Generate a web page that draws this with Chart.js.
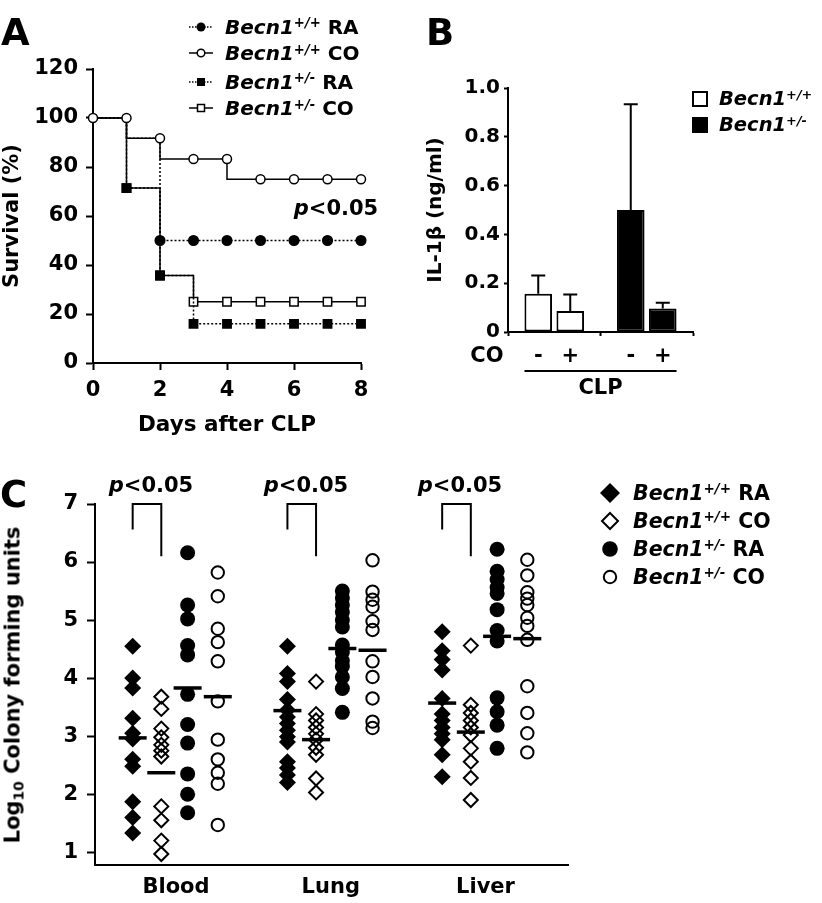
<!DOCTYPE html>
<html>
<head>
<meta charset="utf-8">
<script src="https://cdn.jsdelivr.net/npm/chart.js@4.4.0/dist/chart.umd.min.js"></script>
<style>
  body { margin: 0; background: #fff; }
  #page { position: relative; width: 822px; height: 903px; overflow: hidden;
          font-family: 'DejaVu Sans', sans-serif; font-weight: bold; color: #000; }
  canvas { position: absolute; }
  .txt { position: absolute; white-space: nowrap; }
  .letter { font-size: 37px; line-height: 37px; }
  .gene { font-style: italic; }
  sup { font-size: 0.66em; position: relative; top: -0.5em; vertical-align: baseline; }
  sub { font-size: 0.66em; position: relative; top: 0.3em; vertical-align: baseline; }
  .icon { position: absolute; }
  .pval { font-size: 21px; line-height: 21px; width: 120px; text-align: center; }
  .legA { font-size: 20px; line-height: 20px; }
  .legC { font-size: 20.5px; line-height: 20.5px; }
  #ylabC { font-size: 21px; line-height: 21px; transform: translate(-50%, -50%) rotate(-90deg); }
</style>
</head>
<body>
<div id="page">
  <canvas id="chartA" width="400" height="450" style="left:0;top:0"></canvas>
  <canvas id="chartB" width="402" height="420" style="left:420px;top:0"></canvas>
  <canvas id="chartC" width="600" height="443" style="left:0;top:460px"></canvas>

  <div class="txt letter" style="left:1px;top:14px">A</div>
  <div class="txt letter" style="left:426px;top:14px">B</div>
  <div class="txt letter" style="left:0px;top:476px">C</div>

  <!-- panel A legend -->
  <svg class="icon" width="24" height="12" style="left:189px;top:21px"><line x1="0" y1="6" x2="24" y2="6" stroke="#000" stroke-width="1.5" stroke-dasharray="1.5 1.5"/><circle cx="12" cy="6" r="4.5" fill="#000"/></svg>
  <svg class="icon" width="24" height="12" style="left:189px;top:47px"><line x1="0" y1="6" x2="24" y2="6" stroke="#000" stroke-width="1.5"/><circle cx="12" cy="6" r="3.8" fill="#fff" stroke="#000" stroke-width="1.5"/></svg>
  <svg class="icon" width="24" height="12" style="left:189px;top:76px"><line x1="0" y1="6" x2="24" y2="6" stroke="#000" stroke-width="1.5" stroke-dasharray="1.5 1.5"/><rect x="8" y="2" width="8" height="8" fill="#000"/></svg>
  <svg class="icon" width="24" height="12" style="left:189px;top:102px"><line x1="0" y1="6" x2="24" y2="6" stroke="#000" stroke-width="1.5"/><rect x="8.5" y="2.5" width="7" height="7" fill="#fff" stroke="#000" stroke-width="1.5"/></svg>
  <div class="txt legA" style="left:225px;top:16.7px"><span class="gene">Becn1<sup>+/+</sup></span> RA</div>
  <div class="txt legA" style="left:225px;top:43.3px"><span class="gene">Becn1<sup>+/+</sup></span> CO</div>
  <div class="txt legA" style="left:225px;top:71.7px"><span class="gene">Becn1<sup>+/-</sup></span> RA</div>
  <div class="txt legA" style="left:225px;top:98.3px"><span class="gene">Becn1<sup>+/-</sup></span> CO</div>
  <div class="txt pval" style="left:276px;top:198px"><i>p</i>&lt;0.05</div>

  <!-- panel B legend -->
  <svg class="icon" width="16" height="16" style="left:692px;top:91px"><rect x="1" y="1" width="14" height="14" fill="#fff" stroke="#000" stroke-width="2"/></svg>
  <svg class="icon" width="16" height="16" style="left:692px;top:117px"><rect x="1" y="1" width="14" height="14" fill="#000" stroke="#000" stroke-width="2"/></svg>
  <div class="txt" style="left:719px;top:89px;font-size:19.5px;line-height:19.5px"><span class="gene">Becn1<sup>+/+</sup></span></div>
  <div class="txt" style="left:719px;top:115px;font-size:19.5px;line-height:19.5px"><span class="gene">Becn1<sup>+/-</sup></span></div>

  <!-- panel C labels and legend -->
  <div class="txt pval" style="left:91px;top:475px"><i>p</i>&lt;0.05</div>
  <div class="txt pval" style="left:246px;top:475px"><i>p</i>&lt;0.05</div>
  <div class="txt pval" style="left:400px;top:475px"><i>p</i>&lt;0.05</div>
  <div class="txt" id="ylabC" style="left:14px;top:685px">Log<sub>10</sub> Colony forming units</div>
  <svg class="icon" width="22" height="22" style="left:599px;top:482px"><polygon points="11,1 21,11 11,21 1,11" fill="#000"/></svg>
  <svg class="icon" width="22" height="22" style="left:599px;top:510px"><polygon points="11,3 19,11 11,19 3,11" fill="none" stroke="#000" stroke-width="2"/></svg>
  <svg class="icon" width="22" height="22" style="left:599px;top:538px"><circle cx="11" cy="11" r="7.8" fill="#000"/></svg>
  <svg class="icon" width="22" height="22" style="left:599px;top:566px"><circle cx="11" cy="11" r="6.2" fill="none" stroke="#000" stroke-width="2"/></svg>
  <div class="txt legC" style="left:633px;top:483px"><span class="gene">Becn1<sup>+/+</sup></span> RA</div>
  <div class="txt legC" style="left:633px;top:510.8px"><span class="gene">Becn1<sup>+/+</sup></span> CO</div>
  <div class="txt legC" style="left:633px;top:539px"><span class="gene">Becn1<sup>+/-</sup></span> RA</div>
  <div class="txt legC" style="left:633px;top:567px"><span class="gene">Becn1<sup>+/-</sup></span> CO</div>
</div>

<script>
// ------------------------- Data: A (survival, %) -------------------------
const days = [0, 1, 2, 3, 4, 5, 6, 7, 8];
const survWtRA = [100, 91.7, 50, 50, 50, 50, 50, 50, 50];
const survWtCO = [100, 100, 91.7, 83.3, 83.3, 75, 75, 75, 75];
const survHetRA = [100, 71.4, 35.7, 16, 16, 16, 16, 16, 16];
const survHetCO = [100, 71.4, 35.7, 25, 25, 25, 25, 25, 25];
const xTicksA = [0, 2, 4, 6, 8];
const yTicksA = [0, 20, 40, 60, 80, 100, 120];

// ------------------------- Data: B (IL-1beta, ng/ml) -------------------------
const genotypes = ['Becn1+/+', 'Becn1+/-'];
const coSigns = ['-', '+'];
const il1bNoCO = [0.157, 0.50];
const il1bCO = [0.086, 0.096];
const il1bNoCOErr = [0.075, 0.433];
const il1bCOErr = [0.068, 0.024];
const yTicksB = [0, 0.2, 0.4, 0.6, 0.8, 1.0];

// ------------------------- Data: C (log10 CFU) -------------------------
const tissues = ['Blood', 'Lung', 'Liver'];
const cfuWtRA = [
  [4.55, 4.0, 3.83, 3.31, 3.05, 2.95, 2.6, 2.48, 1.87, 1.6, 1.33],
  [4.55, 4.08, 3.94, 3.63, 3.45, 3.33, 3.22, 3.1, 2.99, 2.9, 2.56, 2.45, 2.33, 2.2],
  [4.8, 4.47, 4.32, 4.14, 3.65, 3.38, 3.27, 3.15, 3.04, 2.94, 2.68, 2.3]
];
const cfuWtCO = [
  [3.68, 3.47, 3.13, 2.98, 2.85, 2.75, 2.65, 1.79, 1.55, 1.2, 0.97],
  [3.94, 3.38, 3.27, 3.15, 3.04, 2.94, 2.8, 2.68, 2.27, 2.03],
  [4.56, 3.54, 3.4, 3.27, 3.15, 3.02, 2.79, 2.56, 2.28, 1.9]
];
const cfuHetRA = [
  [6.16, 5.26, 5.02, 4.56, 4.4, 3.72, 3.2, 2.88, 2.35, 2.0, 1.68],
  [5.5, 5.38, 5.26, 5.14, 5.0, 4.88, 4.57, 4.45, 4.3, 4.2, 4.02, 3.82, 3.41],
  [6.22, 5.84, 5.7, 5.56, 5.46, 5.18, 4.82, 4.64, 3.66, 3.42, 3.19, 2.79]
];
const cfuHetCO = [
  [5.82, 5.41, 4.85, 4.62, 4.29, 3.6, 2.94, 2.6, 2.37, 2.18, 1.47],
  [6.03, 5.49, 5.35, 5.23, 4.98, 4.83, 4.29, 4.02, 3.65, 3.25, 3.14],
  [6.04, 5.77, 5.48, 5.37, 5.26, 5.04, 4.9, 4.66, 3.86, 3.4, 3.05, 2.72]
];
const meanWtRA = [2.97, 3.44, 3.57];
const meanWtCO = [2.37, 2.94, 3.07];
const meanHetRA = [3.83, 4.51, 4.72];
const meanHetCO = [3.68, 4.48, 4.68];
const bracketTop = 7;
const bracketLegs = [6.56, 6.1];
const yTicksC = [1, 2, 3, 4, 5, 6, 7];

// ------------------------- Shared styling -------------------------
Chart.defaults.font.family = "'DejaVu Sans', sans-serif";
Chart.defaults.font.weight = 'bold';
Chart.defaults.font.size = 21;
Chart.defaults.color = '#000';

const axisBorder = { display: true, color: '#000', width: 2 };
function axisGrid(len) {
  return { drawOnChartArea: false, drawTicks: len > 0, tickLength: len, tickWidth: 2, tickColor: '#000', color: '#000' };
}
const noPlugins = { legend: { display: false }, tooltip: { enabled: false } };

// ------------------------- Panel A -------------------------
function survSeries(values, stepped, dash, style, radius, fill, hideIdx) {
  return {
    data: days.map((d, i) => ({ x: d, y: values[i] })),
    stepped: stepped,
    borderColor: '#000',
    borderWidth: 1.5,
    borderDash: dash,
    pointStyle: style,
    pointRadius: ctx => (hideIdx.includes(ctx.dataIndex) ? 0 : radius),
    pointBackgroundColor: fill,
    pointBorderColor: '#000',
    pointBorderWidth: 1.5,
    clip: false
  };
}

new Chart(document.getElementById('chartA'), {
  type: 'line',
  data: {
    datasets: [
      survSeries(survWtCO, 'after', [], 'circle', 4.5, '#fff', []),
      survSeries(survWtRA, 'before', [2, 2], 'circle', 4.8, '#000', [0, 1]),
      survSeries(survHetRA, 'before', [2, 2], 'rect', 5.9, '#000', [0]),
      survSeries(survHetCO, 'before', [], 'rect', 5.9, '#fff', [0])
    ]
  },
  options: {
    responsive: false,
    animation: false,
    layout: { padding: { left: 0, right: 39, top: 69, bottom: 0 } },
    plugins: noPlugins,
    scales: {
      x: {
        type: 'linear', min: 0, max: 8,
        afterBuildTicks: s => { s.ticks = xTicksA.map(v => ({ value: v })); },
        ticks: { padding: 8 },
        grid: axisGrid(7), border: axisBorder,
        title: { display: true, text: 'Days after CLP', font: { size: 21.5 }, padding: { top: 0, bottom: 12 } },
        afterFit: s => { s.height = 87; }
      },
      y: {
        min: 0, max: 120,
        afterBuildTicks: s => { s.ticks = yTicksA.map(v => ({ value: v })); },
        ticks: { padding: 8 },
        grid: axisGrid(7), border: axisBorder,
        title: { display: true, text: 'Survival (%)', padding: { top: 0, bottom: 0 } },
        afterFit: s => { s.width = 93; }
      }
    }
  }
});

// ------------------------- Panel B -------------------------
const errorBars = {
  id: 'errorBars',
  afterDatasetsDraw(chart) {
    const { ctx, scales: { y } } = chart;
    ctx.save();
    ctx.strokeStyle = '#000';
    ctx.lineWidth = 2;
    chart.data.datasets.forEach((ds, i) => {
      chart.getDatasetMeta(i).data.forEach((bar, j) => {
        const top = y.getPixelForValue(ds.data[j] + ds.errors[j]);
        ctx.beginPath();
        ctx.moveTo(bar.x, bar.y);
        ctx.lineTo(bar.x, top);
        ctx.moveTo(bar.x - 7, top);
        ctx.lineTo(bar.x + 7, top);
        ctx.stroke();
      });
    });
    ctx.restore();
  }
};

const clpLabels = {
  id: 'clpLabels',
  afterDraw(chart) {
    const { ctx, chartArea } = chart;
    let left = Infinity, right = -Infinity;
    ctx.save();
    ctx.fillStyle = '#000';
    ctx.strokeStyle = '#000';
    ctx.textAlign = 'center';
    ctx.textBaseline = 'middle';
    ctx.font = "bold 21px 'DejaVu Sans'";
    chart.data.datasets.forEach((ds, i) => {
      chart.getDatasetMeta(i).data.forEach(bar => {
        ctx.fillText(coSigns[i], bar.x, chartArea.bottom + 25);
        left = Math.min(left, bar.x - bar.width / 2);
        right = Math.max(right, bar.x + bar.width / 2);
      });
    });
    ctx.fillText('CO', chartArea.left - 21, chartArea.bottom + 25);
    ctx.lineWidth = 2;
    ctx.beginPath();
    ctx.moveTo(left, chartArea.bottom + 39);
    ctx.lineTo(right, chartArea.bottom + 39);
    ctx.stroke();
    ctx.fillText('CLP', (left + right) / 2, chartArea.bottom + 57);
    ctx.restore();
  }
};

new Chart(document.getElementById('chartB'), {
  type: 'bar',
  data: {
    labels: genotypes,
    datasets: [
      { data: il1bNoCO, errors: il1bNoCOErr, backgroundColor: ['#fff', '#000'], borderColor: '#000', borderWidth: 2, borderSkipped: false },
      { data: il1bCO, errors: il1bCOErr, backgroundColor: ['#fff', '#000'], borderColor: '#000', borderWidth: 2, borderSkipped: false }
    ]
  },
  options: {
    responsive: false,
    animation: false,
    layout: { padding: { left: 0, right: 129, top: 88, bottom: 0 } },
    datasets: { bar: { categoryPercentage: 0.692, barPercentage: 0.8625 } },
    plugins: noPlugins,
    scales: {
      x: {
        ticks: { display: false },
        grid: Object.assign(axisGrid(4), { offset: true }), border: axisBorder,
        afterFit: s => { s.height = 88; }
      },
      y: {
        min: 0, max: 1,
        afterBuildTicks: s => { s.ticks = yTicksB.map(v => ({ value: v })); },
        ticks: { padding: 4, font: { size: 20 }, callback: v => (v === 0 ? '0' : v.toFixed(1)) },
        grid: axisGrid(4), border: axisBorder,
        title: { display: true, text: 'IL-1β (ng/ml)', font: { size: 20 }, padding: { top: 4, bottom: 0 } },
        afterFit: s => { s.width = 88; }
      }
    }
  },
  plugins: [errorBars, clpLabels]
});

// ------------------------- Panel C -------------------------
const colOffsets = [-0.28, -0.095, 0.075, 0.27];

function cfuPoints(groups, g) {
  const pts = [];
  groups.forEach((vals, t) => vals.forEach(v => pts.push({ x: t + 1 + colOffsets[g], y: v })));
  return pts;
}

const meanPoints = [meanWtRA, meanWtCO, meanHetRA, meanHetCO]
  .flatMap((m, g) => m.map((v, t) => ({ x: t + 1 + colOffsets[g], y: v })));

const brackets = {
  id: 'brackets',
  afterDatasetsDraw(chart) {
    const { ctx, scales: { x, y } } = chart;
    ctx.save();
    ctx.strokeStyle = '#000';
    ctx.lineWidth = 2;
    tissues.forEach((t, i) => {
      const x1 = x.getPixelForValue(i + 1 + colOffsets[0]);
      const x2 = x.getPixelForValue(i + 1 + colOffsets[1]);
      ctx.beginPath();
      ctx.moveTo(x1, y.getPixelForValue(bracketLegs[0]));
      ctx.lineTo(x1, y.getPixelForValue(bracketTop));
      ctx.lineTo(x2, y.getPixelForValue(bracketTop));
      ctx.lineTo(x2, y.getPixelForValue(bracketLegs[1]));
      ctx.stroke();
    });
    ctx.restore();
  }
};

new Chart(document.getElementById('chartC'), {
  type: 'scatter',
  data: {
    datasets: [
      { data: meanPoints, pointStyle: 'line', pointRadius: 14, pointBorderWidth: 3.5, pointBorderColor: '#000', clip: false },
      { data: cfuPoints(cfuWtRA, 0), pointStyle: 'rectRot', pointRadius: 8.5, pointBackgroundColor: '#000', pointBorderWidth: 0, clip: false },
      { data: cfuPoints(cfuWtCO, 1), pointStyle: 'rectRot', pointRadius: 7, pointBackgroundColor: 'rgba(0,0,0,0)', pointBorderColor: '#000', pointBorderWidth: 2, clip: false },
      { data: cfuPoints(cfuHetRA, 2), pointStyle: 'circle', pointRadius: 7.5, pointBackgroundColor: '#000', pointBorderWidth: 0, clip: false },
      { data: cfuPoints(cfuHetCO, 3), pointStyle: 'circle', pointRadius: 6.2, pointBackgroundColor: 'rgba(0,0,0,0)', pointBorderColor: '#000', pointBorderWidth: 2, clip: false }
    ]
  },
  options: {
    responsive: false,
    animation: false,
    layout: { padding: { left: 0, right: 32, top: 44, bottom: 0 } },
    plugins: noPlugins,
    scales: {
      x: {
        type: 'linear', min: 0.4766, max: 3.533,
        afterBuildTicks: s => { s.ticks = tissues.map((t, i) => ({ value: i + 1 })); },
        ticks: { padding: 10, callback: v => tissues[Math.round(v) - 1] },
        grid: axisGrid(0), border: axisBorder,
        afterFit: s => { s.height = 38; }
      },
      y: {
        min: 0.78, max: 7,
        afterBuildTicks: s => { s.ticks = yTicksC.map(v => ({ value: v })); },
        ticks: { padding: 9 },
        grid: axisGrid(8), border: axisBorder,
        afterFit: s => { s.width = 95; }
      }
    }
  },
  plugins: [brackets]
});
</script>
</body>
</html>
